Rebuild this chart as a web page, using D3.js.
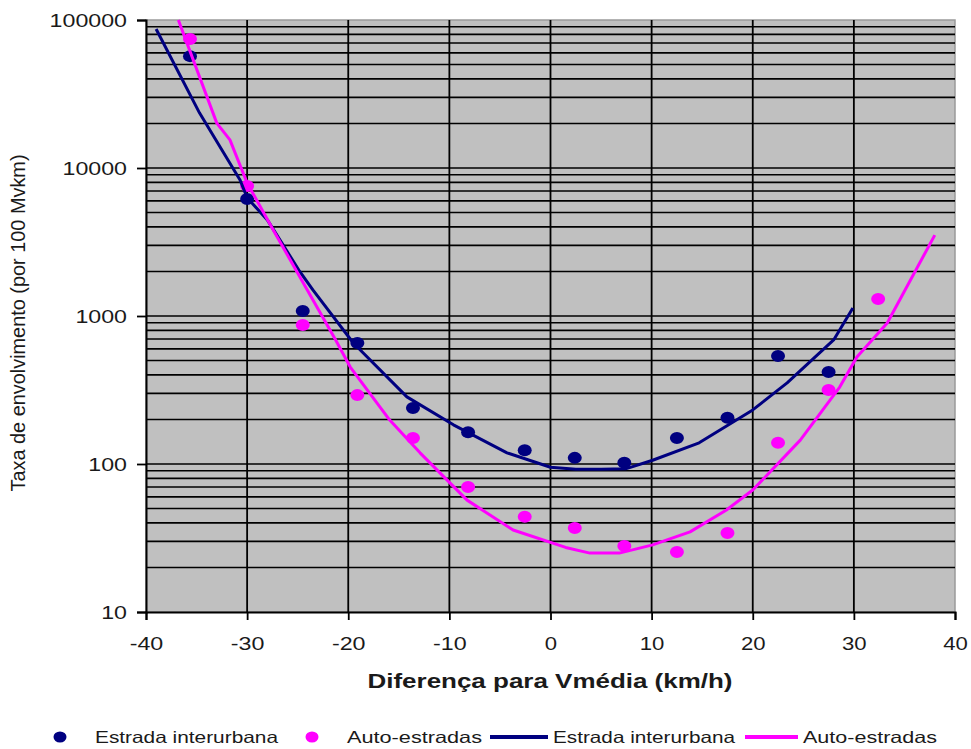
<!DOCTYPE html>
<html>
<head>
<meta charset="utf-8">
<script src="https://cdn.jsdelivr.net/npm/d3@7"></script>
<style>
  body { margin: 0; background: #fff; }
  text { font-family: "Liberation Sans", Arial, sans-serif; fill: #1a1a1a; }
</style>
</head>
<body>
<div id="d3-target"></div>
<script>
// pontos observados
const interX = [-35.65, -30.0, -24.5, -19.1, -13.6, -8.15, -2.55, 2.4, 7.3, 12.5, 17.5, 22.5, 27.5];
const interY = [57000, 6180, 1080, 657, 239, 164, 124, 110, 102, 150, 205, 537, 419];
const autoX = [-35.65, -30.0, -24.5, -19.1, -13.6, -8.15, -2.55, 2.4, 7.3, 12.5, 17.5, 22.5, 27.5, 32.4];
const autoY = [74500, 7550, 869, 292, 150, 70, 44, 37, 27.9, 25.4, 34.2, 139, 316, 1303];

// curvas ajustadas
const interLineX = [-39, -34.7, -30.7, -30, -28, -24.8, -23.5, -19.5, -14.2, -9.6, -4.3, 0, 2.5, 5, 7.5, 10.1, 14.7, 20, 23.4, 28, 29.9];
const interLineY = [87000, 23500, 8300, 6300, 4460, 2000, 1500, 657, 284, 184, 119, 95, 92, 92, 93, 106, 139, 232, 353, 689, 1132];
const autoLineX = [-36.8, -33, -31.7, -30, -27.5, -24.5, -21.3, -19.8, -15.9, -12.9, -8.25, -3.7, 1.5, 3.9, 6.8, 10.1, 13.8, 17.4, 20, 24.7, 28.6, 30.3, 33.3, 38];
const autoLineY = [100000, 20100, 15500, 7920, 3900, 1700, 700, 452, 198, 119, 57, 35.8, 27.3, 25, 25, 28.4, 34.8, 48.9, 66.7, 145, 331, 528, 898, 3520];

const xTicks = [-40, -30, -20, -10, 0, 10, 20, 30, 40];
const yTicks = [10, 100, 1000, 10000, 100000];
const seriesNames = ["Estrada interurbana", "Auto-estradas"];
const seriesColors = ["#000080", "#ff00ff"];

const W = 971, H = 749;
const plot = { left: 146, right: 955, top: 20, bottom: 612 };

const svg = d3.select("#d3-target")
  .append("svg")
  .attr("xmlns", "http://www.w3.org/2000/svg")
  .attr("width", W)
  .attr("height", H);

const x = d3.scaleLinear().domain([-40, 40]).range([plot.left, plot.right]);
const y = d3.scaleLog().domain([10, 100000]).range([plot.bottom, plot.top]);

// stretch text horizontally like the original picture
function stretch(sel, len) {
  sel.each(function (d, i) {
    const n = typeof len === "function" ? len.call(this, d, i) : len;
    d3.select(this).attr("textLength", n).attr("lengthAdjust", "spacingAndGlyphs");
  });
}

// plot area
svg.append("rect")
  .attr("x", plot.left).attr("y", plot.top)
  .attr("width", plot.right - plot.left).attr("height", plot.bottom - plot.top)
  .attr("fill", "#c0c0c0")
  .attr("stroke", "#9a9a9a")
  .attr("stroke-width", 1.5);

// gridlines
const minor = y.ticks().filter(v => v > 10 && v < 100000);
svg.append("g").selectAll("line").data(minor).join("line")
  .attr("x1", plot.left).attr("x2", plot.right)
  .attr("y1", d => y(d)).attr("y2", d => y(d))
  .attr("stroke", "#000").attr("stroke-width", 1.6);

svg.append("g").selectAll("line").data(xTicks.filter(d => d > -40 && d < 40)).join("line")
  .attr("x1", d => x(d)).attr("x2", d => x(d))
  .attr("y1", plot.top).attr("y2", plot.bottom)
  .attr("stroke", "#000").attr("stroke-width", 1.8);

// axes
const yAxis = svg.append("g")
  .attr("transform", `translate(${plot.left},0)`)
  .call(d3.axisLeft(y).tickValues(yTicks).tickFormat(d3.format("d")).tickSize(9).tickPadding(10));
const xAxis = svg.append("g")
  .attr("transform", `translate(0,${plot.bottom})`)
  .call(d3.axisBottom(x).tickValues(xTicks).tickFormat(d => String(d)).tickSize(8).tickPadding(17));

[yAxis, xAxis].forEach(ax => {
  ax.select(".domain").attr("stroke", "#000").attr("stroke-width", 2);
  ax.selectAll(".tick line").attr("stroke", "#000").attr("stroke-width", 1.8);
  ax.selectAll(".tick text")
    .attr("font-family", "Liberation Sans, Arial, sans-serif")
    .attr("font-size", 18)
    .attr("fill", "#1a1a1a");
});
yAxis.selectAll(".tick text").attr("dy", "0.36em");
stretch(yAxis.selectAll(".tick text"), function () { return this.textContent.length * 12.9; });
stretch(xAxis.selectAll(".tick text"), function () {
  const t = this.textContent;
  return t.replace("-", "").length * 12.3 + (t.includes("-") ? 9 : 0);
});

// titles
const xt = svg.append("text")
  .attr("x", 550).attr("y", 688)
  .attr("text-anchor", "middle")
  .attr("font-size", 21).attr("font-weight", "bold")
  .text("Diferença para Vmédia (km/h)");
stretch(xt, 365);

const yt = svg.append("text")
  .attr("transform", "translate(25,323) scale(1.3,1) rotate(-90)")
  .attr("text-anchor", "middle")
  .attr("font-size", 16)
  .text("Taxa de envolvimento (por 100 Mvkm)");
stretch(yt, 337);

// series
const dots = [d3.zip(interX, interY), d3.zip(autoX, autoY)];
const curves = [d3.zip(interLineX, interLineY), d3.zip(autoLineX, autoLineY)];

dots.forEach((pts, i) => {
  svg.append("g").selectAll("ellipse").data(pts).join("ellipse")
    .attr("cx", d => x(d[0])).attr("cy", d => y(d[1]))
    .attr("rx", 7).attr("ry", 6)
    .attr("fill", seriesColors[i]);
});

const line = d3.line().x(d => x(d[0])).y(d => y(d[1]));
curves.forEach((pts, i) => {
  svg.append("path")
    .datum(pts)
    .attr("d", line)
    .attr("fill", "none")
    .attr("stroke", seriesColors[i])
    .attr("stroke-width", 3)
    .attr("stroke-linejoin", "round");
});

// legend
const legY = 737;
const legend = [
  { kind: "dot", s: 0, mx: 60, tx: 95, len: 183 },
  { kind: "dot", s: 1, mx: 312, tx: 347, len: 135 },
  { kind: "line", s: 0, mx: 490, tx: 553, len: 182 },
  { kind: "line", s: 1, mx: 745, tx: 803, len: 134 }
];
const lg = svg.append("g").selectAll("g").data(legend).join("g");
lg.filter(d => d.kind === "dot").append("ellipse")
  .attr("cx", d => d.mx).attr("cy", legY)
  .attr("rx", 6.5).attr("ry", 5.5)
  .attr("fill", d => seriesColors[d.s]);
lg.filter(d => d.kind === "line").append("line")
  .attr("x1", d => d.mx).attr("x2", d => d.tx - 5)
  .attr("y1", legY).attr("y2", legY)
  .attr("stroke", d => seriesColors[d.s])
  .attr("stroke-width", 4);
const lt = lg.append("text")
  .attr("x", d => d.tx).attr("y", legY + 6)
  .attr("font-size", 16.5)
  .text(d => seriesNames[d.s]);
stretch(lt, d => d.len);
</script>
</body>
</html>
